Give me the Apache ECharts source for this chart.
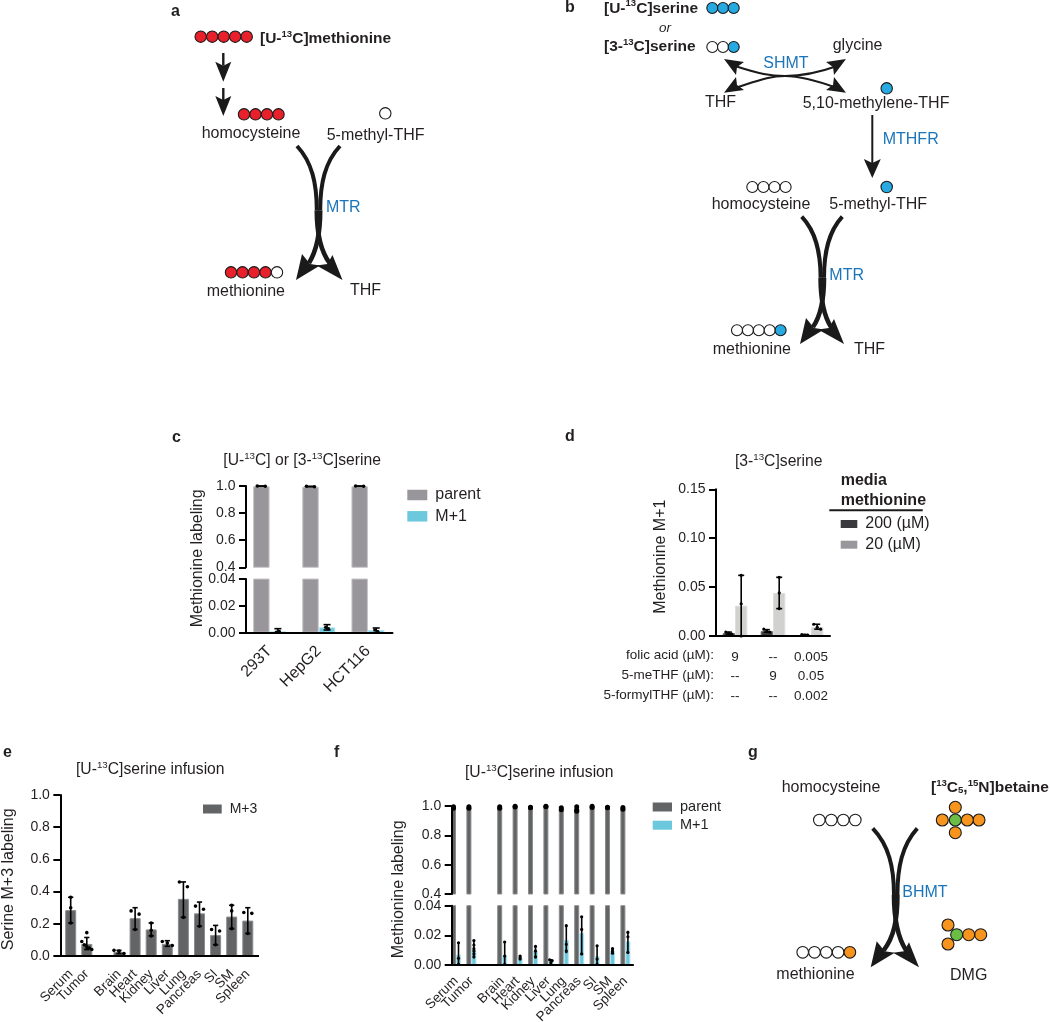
<!DOCTYPE html>
<html>
<head>
<meta charset="utf-8">
<script src="https://cdn.jsdelivr.net/npm/echarts@6/dist/echarts.min.js"></script>
<style>
  html, body { margin: 0; background: #fff; }
  #main { width: 1050px; height: 1022px; }
</style>
</head>
<body>
<div id="main"></div>
<script>
// panel c
const cCats = ['293T', 'HepG2', 'HCT116']
const cParent = [0.998, 0.995, 0.998]
const cM1 = [0.001, 0.004, 0.002]
const cParentLow = [0.998, 0.994, 0.998]
const cParentHigh = [1, 0.998, 1]
const cM1Low = [0, 0.002, 0]
const cM1High = [0.003, 0.006, 0.0035]
const cParentPts = [[1, 0.998], [0.998, 0.994], [1, 0.998]]
const cM1Pts = [[0.0005, 0.001], [0.004, 0.003], [0.002, 0.001]]

// panel d
const dFolic = ['9', '--', '0.005']
const dMeThf = ['--', '9', '0.05']
const dFormyl = ['--', '--', '0.002']
const dHigh = [0.003, 0.005, 0.001]
const dLow = [0.031, 0.044, 0.009]
const dHighLow = [0.002, 0.004, 0.0005]
const dHighHigh = [0.004, 0.0065, 0.0015]
const dLowLow = [0, 0.028, 0.007]
const dLowHigh = [0.062, 0.06, 0.012]
const dHighPts = [[0.004, 0.003, 0.002], [0.007, 0.005, 0.004], [0.0015, 0.001, 0.001]]
const dLowPts = [[0.062, 0.033, 0], [0.06, 0.044, 0.028], [0.012, 0.009, 0.007]]

// panel e, f: the empty name is the gap after Tumor
const tissues = ['Serum', 'Tumor', '', 'Brain', 'Heart', 'Kidney', 'Liver', 'Lung', 'Pancreas', 'SI', 'SM', 'Spleen']
const eM3 = [0.285, 0.075, null, 0.025, 0.235, 0.165, 0.075, 0.355, 0.265, 0.13, 0.245, 0.22]
const eLow = [0.205, 0.04, null, 0.015, 0.165, 0.125, 0.06, 0.24, 0.185, 0.07, 0.17, 0.14]
const eHigh = [0.365, 0.115, null, 0.035, 0.3, 0.205, 0.095, 0.46, 0.335, 0.19, 0.315, 0.3]
const ePts = [
  [0.365, 0.3, 0.205], [0.145, 0.09, 0.07, 0.055, 0.05, 0.04], [], [0.035, 0.03, 0.015],
  [0.28, 0.26, 0.165], [0.205, 0.16, 0.125], [0.09, 0.08, 0.065], [0.46, 0.43, 0.24],
  [0.31, 0.29, 0.185], [0.165, 0.155, 0.07], [0.315, 0.28, 0.17], [0.27, 0.265, 0.14]
]

const fParent = [0.99, 0.99, null, 0.99, 0.995, 0.99, 0.997, 0.98, 0.98, 0.995, 0.99, 0.985]
const fParentPts = [
  [0.995, 0.985], [0.995, 0.985], [], [0.995, 0.985], [0.998, 0.993], [0.992, 0.988],
  [0.999, 0.995], [0.988, 0.975], [0.995, 0.975, 0.965], [0.998, 0.99], [0.992, 0.988], [0.99, 0.978]
]
const fM1 = [0.007, 0.01, null, 0.0065, 0.005, 0.0095, 0.003, 0.017, 0.0215, 0.006, 0.0095, 0.016]
const fM1Low = [0, 0.005, null, 0, 0.004, 0.005, 0.0015, 0.0085, 0.0075, 0, 0.008, 0.0085]
const fM1High = [0.015, 0.0165, null, 0.0155, 0.006, 0.0125, 0.0035, 0.0265, 0.0325, 0.013, 0.011, 0.0225]
const fM1Pts = [
  [0.015, 0.0045, 0.0005], [0.0165, 0.0135, 0.011, 0.0095, 0.0075, 0.0055], [], [0.0155, 0.006, 0.0005],
  [0.006, 0.005, 0.004], [0.0125, 0.0095, 0.0055], [0.0035, 0.003, 0.0015], [0.0265, 0.014, 0.0095],
  [0.0325, 0.024, 0.0075], [0.013, 0.004, 0.0005], [0.011, 0.0095, 0.008], [0.022, 0.019, 0.0085]
]

const FONT = 'Liberation Sans'
const INK = '#231f20'
const BLUE = '#1b75bb'
const RED = '#e8202c'
const CYAN = '#27aae1'
const ORANGE = '#f7941d'
const GREEN = '#6abd45'
const PARENT_C = '#98969b'
const PARENT_DARK = '#636466'
const TEAL = '#6cc9dd'

// ---------- diagram helpers ----------
const graphics = []

function label(x, y, text, opt) {
  opt = opt || {}
  graphics.push({
    type: 'text', x: x, y: y, rotation: opt.rotation || 0, z: 10,
    style: {
      text: text, fill: opt.color || INK, fontFamily: FONT,
      fontSize: opt.size || 16, fontWeight: opt.weight || 'normal', fontStyle: opt.style || 'normal',
      textAlign: opt.align || 'left', textVerticalAlign: 'middle'
    }
  })
}

// text with superscripts, n = normal run, s = small raised run, l = small lowered run
function richLabel(x, y, text, opt) {
  opt = opt || {}
  const size = opt.size || 15.7
  const weight = opt.weight || 'normal'
  const base = { fontFamily: FONT, fill: INK, fontWeight: weight }
  graphics.push({
    type: 'text', x: x, y: y, z: 10,
    style: {
      text: text, fill: INK, fontFamily: FONT, fontSize: size, fontWeight: weight,
      textAlign: 'left', textVerticalAlign: 'middle',
      rich: {
        n: Object.assign({ fontSize: size, lineHeight: size + 2, verticalAlign: 'bottom' }, base),
        s: Object.assign({ fontSize: size * 0.62, lineHeight: size + 2, verticalAlign: 'top' }, base),
        l: Object.assign({ fontSize: size * 0.62, lineHeight: size + 2, verticalAlign: 'bottom' }, base)
      }
    }
  })
}

function bead(x, y, color, r) {
  graphics.push({
    type: 'circle', z: 9, shape: { cx: x, cy: y, r: r || 5.5 },
    style: { fill: color, stroke: '#1a1a1a', lineWidth: 1.1 }
  })
}

function beads(x, y, step, colors, r) {
  colors.forEach((c, i) => bead(x + i * step, y, c, r))
}

function curve(pts, width) {
  graphics.push({
    type: 'bezierCurve', z: 8,
    shape: { x1: pts[0], y1: pts[1], cpx1: pts[2], cpy1: pts[3], cpx2: pts[4], cpy2: pts[5], x2: pts[6], y2: pts[7] },
    style: { stroke: '#1a1a1a', lineWidth: width, fill: 'none', lineCap: 'butt' }
  })
}

function head(points) {
  graphics.push({ type: 'polygon', z: 8, shape: { points: points }, style: { fill: '#1a1a1a' } })
}

function straightArrow(x, y1, y2, halfW, headLen, width) {
  graphics.push({
    type: 'line', z: 8, shape: { x1: x, y1: y1, x2: x, y2: y2 - headLen + 4 },
    style: { stroke: '#1a1a1a', lineWidth: width }
  })
  head([[x, y2], [x - halfW, y2 - headLen], [x, y2 - headLen + 4], [x + halfW, y2 - headLen]])
}

// the two crossing curved arrows of a methyl transfer
function crossArrow(xL, xR, yT, yB, tipL, tipR, mid) {
  const h = yB - yT
  const w = 4
  const o = 1.7
  curve([xL, yT, xL + (mid - xL) * 0.7, yT + h * 0.12, mid - o, yT + h * 0.28, mid - o, yT + h * 0.48], w)
  curve([mid - o, yT + h * 0.48, mid - o, yT + h * 0.66, mid + o, yT + h * 0.78, tipR - 13, yB - 17], w + 0.6)
  curve([xR, yT, xR - (xR - mid) * 0.7, yT + h * 0.12, mid + o, yT + h * 0.28, mid + o, yT + h * 0.48], w)
  curve([mid + o, yT + h * 0.48, mid + o, yT + h * 0.66, mid - o, yT + h * 0.78, tipL + 13, yB - 17], w + 0.6)
  head([[tipL, yB], [tipL + 6, yB - 26], [tipL + 14, yB - 16], [tipL + 24, yB - 14.5]])
  head([[tipR, yB], [tipR - 10, yB - 25], [tipR - 15, yB - 16], [tipR - 26, yB - 14.5]])
}

// panel letters
const letters = [['a', 171, 12], ['b', 565, 8], ['c', 172, 438], ['d', 565, 437], ['e', 3, 753], ['f', 334, 753], ['g', 748, 753]]
letters.forEach(l => label(l[1], l[2], l[0], { size: 16, weight: 'bold' }))

// panel a
beads(200.7, 36.7, 11.5, [RED, RED, RED, RED, RED], 5.7)
richLabel(260, 38, '{n|[U-}{s|13}{n|C]methionine}', { weight: 'bold', size: 15.5 })
straightArrow(223.3, 53, 81.7, 8, 20, 2.4)
straightArrow(223.3, 88, 116, 8, 20, 2.4)
beads(244, 114.3, 11.5, [RED, RED, RED, RED], 5.7)
bead(385.3, 113.3, '#fff', 5.7)
label(201.7, 134, 'homocysteine')
label(326.7, 135.7, '5-methyl-THF')
crossArrow(297, 340, 146, 280, 296, 342.5, 318.5)
label(326, 207.7, 'MTR', { color: BLUE })
beads(231, 272.3, 11.5, [RED, RED, RED, RED, '#fff'], 5.7)
label(206.7, 291.7, 'methionine')
label(350, 290.7, 'THF')

// panel b
richLabel(604, 7.5, '{n|[U-}{s|13}{n|C]serine}', { weight: 'bold', size: 15.5 })
beads(712.3, 8, 10.7, [CYAN, CYAN, CYAN])
label(665, 28, 'or', { style: 'italic', size: 13.5, align: 'center' })
richLabel(604, 46.3, '{n|[3-}{s|13}{n|C]serine}', { weight: 'bold', size: 15.5 })
beads(712.3, 47, 10.7, ['#fff', '#fff', CYAN])
label(832.7, 46, 'glycine')
label(763.3, 63.3, 'SHMT', { color: BLUE })
label(705, 103, 'THF')
label(802.7, 103.3, '5,10-methylene-THF')
curve([735, 66, 760, 74, 770, 76, 785, 76], 2)
curve([785, 76, 800, 76, 815, 80, 837, 88], 2)
curve([837, 66, 815, 74, 800, 76, 785, 76], 2)
curve([785, 76, 770, 76, 760, 80, 735, 88], 2)
head([[724, 59], [744, 62], [737, 67], [736, 75]])
head([[724, 92.7], [744, 90], [737, 85], [736, 77]])
head([[846, 59], [826, 62], [833, 67], [834, 75]])
head([[846, 92.7], [826, 90], [833, 85], [834, 77]])
bead(886.7, 88.3, CYAN, 5.7)
straightArrow(872.3, 115, 178, 8.5, 19, 2)
label(882.7, 140, 'MTHFR', { color: BLUE })
bead(886.7, 187, CYAN, 5.7)
beads(752.3, 187, 11.1, ['#fff', '#fff', '#fff', '#fff'])
label(711.7, 205, 'homocysteine')
label(829.3, 205, '5-methyl-THF')
crossArrow(801.7, 842.3, 216.7, 344, 800, 844, 822.3)
label(829.3, 275.3, 'MTR', { color: BLUE })
beads(737, 330.3, 10.9, ['#fff', '#fff', '#fff', '#fff', CYAN])
label(712.7, 350, 'methionine')
label(854, 350, 'THF')

// panel g
label(781.7, 787.3, 'homocysteine')
richLabel(931, 787, '{n|[}{s|13}{n|C}{l|5}{n|,}{s|15}{n|N]betaine}', { weight: 'bold', size: 15.5 })
beads(819.3, 820, 12, ['#fff', '#fff', '#fff', '#fff'], 5.8)
bead(955.3, 807.3, ORANGE, 6)
bead(955.3, 832.7, ORANGE, 6)
bead(942.3, 820, ORANGE, 6)
bead(979, 820, ORANGE, 6)
bead(967.3, 820, ORANGE, 6)
bead(955.3, 820, GREEN, 6)
crossArrow(872.7, 917.3, 828.3, 967.3, 870.7, 919, 895.7)
label(902.3, 892.7, 'BHMT', { color: BLUE })
bead(948, 925, ORANGE, 6)
bead(948, 944, ORANGE, 6)
bead(980.7, 934.7, ORANGE, 6)
bead(968.7, 934.7, ORANGE, 6)
bead(956.7, 934.7, GREEN, 6)
beads(802.7, 952.3, 11.8, ['#fff', '#fff', '#fff', '#fff', ORANGE], 5.8)
label(776.3, 974.3, 'methionine')
label(950, 975.3, 'DMG')

// chart titles and y names
richLabel(223.3, 460, '{n|[U-}{s|13}{n|C] or [3-}{s|13}{n|C]serine}')
richLabel(735, 460.7, '{n|[3-}{s|13}{n|C]serine}')
richLabel(76, 769, '{n|[U-}{s|13}{n|C]serine infusion}')
richLabel(465, 772.3, '{n|[U-}{s|13}{n|C]serine infusion}')
label(197.3, 558.3, 'Methionine labeling', { rotation: Math.PI / 2, align: 'center' })
label(660.7, 556.7, 'Methionine M+1', { rotation: Math.PI / 2, align: 'center' })
label(8.3, 879.3, 'Serine M+3 labeling', { rotation: Math.PI / 2, align: 'center' })
label(398.3, 889.3, 'Methionine labeling', { rotation: Math.PI / 2, align: 'center' })

// d: legend header and the row names under the axis
label(840.7, 481, 'media', { weight: 'bold' })
label(840.7, 500.7, 'methionine', { weight: 'bold' })
graphics.push({ type: 'line', shape: { x1: 829.3, y1: 510.3, x2: 922.7, y2: 510.3 }, style: { stroke: '#1a1a1a', lineWidth: 2 } })
label(714, 655.7, 'folic acid (µM):', { size: 13.5, align: 'right' })
label(714, 675.5, '5-meTHF (µM):', { size: 13.5, align: 'right' })
label(714, 695, '5-formylTHF (µM):', { size: 13.5, align: 'right' })

// e: axis line runs slightly past the first and last category
graphics.push({ type: 'line', z: 5, shape: { x1: 60, y1: 956, x2: 63, y2: 956 }, style: { stroke: '#000', lineWidth: 2 } })
graphics.push({ type: 'line', z: 5, shape: { x1: 255, y1: 956, x2: 259, y2: 956 }, style: { stroke: '#000', lineWidth: 2 } })

// ---------- chart helpers ----------
const grids = []
const xAxes = []
const yAxes = []
const series = []

function addGrid(box, cats, xOpt, yOpt) {
  const idx = grids.length
  // outerBoundsMode none, otherwise the long rotated labels squeeze the grid
  grids.push(Object.assign({ containLabel: false, outerBoundsMode: 'none' }, box))
  const lab = xOpt.hidden ? { show: false } : Object.assign({
    interval: 0, rotate: 45, color: INK, fontFamily: FONT, fontSize: 14, margin: 9, hideOverlap: false
  }, xOpt.label)
  xAxes.push({
    gridIndex: idx, type: 'category', data: cats, z: 3, show: !xOpt.hidden,
    axisLine: { lineStyle: { color: '#000', width: 2 } },
    axisTick: { alignWithLabel: true, length: 6.5, lineStyle: { color: '#000', width: 2 } },
    axisLabel: lab
  })
  yAxes.push({
    gridIndex: idx, type: 'value', min: yOpt.min, max: yOpt.max, interval: yOpt.interval, offset: yOpt.offset || 0, z: 3,
    splitLine: { show: false },
    axisLine: { show: true, lineStyle: { color: '#000', width: 2 } },
    axisTick: { show: true, length: 7, lineStyle: { color: '#000', width: 2 } },
    axisLabel: {
      color: INK, fontFamily: FONT, fontSize: 14, margin: 10.5, showMinLabel: true, showMaxLabel: true,
      formatter: v => v.toFixed(yOpt.digits)
    }
  })
  return idx
}

function bar(idx, name, values, color, edge, width) {
  series.push({
    type: 'bar', name: name, xAxisIndex: idx, yAxisIndex: idx, data: values, barWidth: width, barGap: 0, z: 2,
    itemStyle: { color: color, borderColor: edge, borderWidth: 1 }
  })
}

// error bar and jittered points of one bar series, dx = shift from the category centre in px
function errDots(idx, lows, highs, pts, dx, opt) {
  const data = lows.map((l, i) => [i, l, highs[i]])
  series.push({
    type: 'custom', xAxisIndex: idx, yAxisIndex: idx, data: data, z: 4, silent: true,
    encode: { x: 0, y: [1, 2] },
    renderItem: (params, api) => {
      const i = api.value(0)
      const kids = []
      const ink = { stroke: '#000', lineWidth: 1.6 }
      if (lows[i] != null) {
        const top = api.coord([i, highs[i]])
        const bot = api.coord([i, lows[i]])
        const x = top[0] + dx
        kids.push({ type: 'line', shape: { x1: x, y1: top[1], x2: x, y2: bot[1] }, style: ink })
        kids.push({ type: 'line', shape: { x1: x - opt.cap, y1: top[1], x2: x + opt.cap, y2: top[1] }, style: ink })
        kids.push({ type: 'line', shape: { x1: x - opt.cap, y1: bot[1], x2: x + opt.cap, y2: bot[1] }, style: ink })
      }
      // points that sit close together are spread sideways, never wider than the bar
      const ys = (pts[i] || []).map(v => api.coord([i, v]))
      let start = 0
      for (let k = 1; k <= ys.length; k++) {
        if (k === ys.length || ys[k][1] - ys[k - 1][1] > opt.near) {
          const n = k - start
          const step = n > 1 ? Math.min(opt.spread, 10 / (n - 1)) : 0
          for (let m = start; m < k; m++) {
            kids.push({
              type: 'circle',
              shape: { cx: ys[m][0] + dx + (m - start - (n - 1) / 2) * step, cy: ys[m][1], r: opt.r },
              style: { fill: '#000' }
            })
          }
          start = k
        }
      }
      return { type: 'group', children: kids }
    }
  })
}

function legend(left, top, gap, w, h, size, items) {
  return {
    left: left, top: top, orient: 'vertical', itemWidth: w, itemHeight: h, itemGap: gap, selectedMode: false,
    icon: 'rect', padding: 0, itemStyle: { borderWidth: 0 },
    textStyle: { color: INK, fontFamily: FONT, fontSize: size, padding: [0, 0, 0, 3] },
    data: items.map(t => ({ name: t[0], itemStyle: { color: t[1], borderWidth: 0 } }))
  }
}

const nulls = n => new Array(n).fill(null)

// panel c, broken axis = two grids
const cTop = addGrid({ left: 245, width: 147.5, top: 486, height: 81.3 }, cCats, { hidden: true }, { min: 0.4, max: 1, interval: 0.2, digits: 1, offset: -1 })
bar(cTop, 'parent', cParent, PARENT_C, '#c6c5c8', 16.5)
bar(cTop, 'M+1', nulls(3), TEAL, '#b5e4ee', 16.5)
errDots(cTop, cParentLow, cParentHigh, cParentPts, -8.3, { cap: 3.5, near: 4, spread: 8, r: 1.8 })
const cBot = addGrid({ left: 245, width: 147.5, top: 579, height: 53.7 }, cCats, { label: { fontSize: 16, margin: 16 } }, { min: 0, max: 0.04, interval: 0.02, digits: 2, offset: -1 })
bar(cBot, 'parent', cParent, PARENT_C, '#c6c5c8', 16.5)
bar(cBot, 'M+1', cM1, TEAL, '#b5e4ee', 16.5)
errDots(cBot, cM1Low, cM1High, cM1Pts, 8.3, { cap: 3.5, near: 4, spread: 3, r: 1.6 })

// panel d, rows of the treatment table are the category labels
const dCats = dFolic.map((v, i) => [v, dMeThf[i], dFormyl[i]].join('\n'))
const d = addGrid({ left: 716, width: 114, top: 489.3, height: 146.7 }, dCats, {
  label: { rotate: 0, fontSize: 13.5, lineHeight: 19.7, margin: 11 }
}, { min: 0, max: 0.15, interval: 0.05, digits: 2 })
bar(d, '200 (µM)', dHigh, '#3a3a3c', '#6c6c6e', 12.3)
bar(d, '20 (µM)', dLow, '#d1d2d0', '#dededd', 12.3)
errDots(d, dHighLow, dHighHigh, dHighPts, -6.2, { cap: 3, near: 3, spread: 3, r: 1.6 })
errDots(d, dLowLow, dLowHigh, dLowPts, 6.2, { cap: 3, near: 3, spread: 3.5, r: 1.6 })

// panel e
const e = addGrid({ left: 62.65, width: 193.2, top: 795, height: 161 }, tissues, { label: { fontSize: 13.5, margin: 16 } }, { min: 0, max: 1, interval: 0.2, digits: 1, offset: 2.3 })
bar(e, 'M+3', eM3, PARENT_DARK, '#8b8c8d', 11)
errDots(e, eLow, eHigh, ePts, 0, { cap: 2.6, near: 5, spread: 8, r: 1.8 })

// panel f
const fTop = addGrid({ left: 448.3, width: 184.8, top: 806, height: 88 }, tissues, { hidden: true }, { min: 0.4, max: 1, interval: 0.2, digits: 1, offset: -3.4 })
bar(fTop, 'parent', fParent, PARENT_DARK, '#8b8c8d', 5)
bar(fTop, 'M+1', nulls(12), TEAL, '#b5e4ee', 5)
errDots(fTop, nulls(12), nulls(12), fParentPts, -2.5, { cap: 0, near: 1, spread: 0, r: 2.5 })
const fBot = addGrid({ left: 448.3, width: 184.8, top: 905.7, height: 59.3 }, tissues, { label: { fontSize: 13.5, margin: 14 } }, { min: 0, max: 0.04, interval: 0.02, digits: 2, offset: -3.4 })
bar(fBot, 'parent', fParent, PARENT_DARK, '#8b8c8d', 5)
bar(fBot, 'M+1', fM1, TEAL, '#b5e4ee', 5)
errDots(fBot, fM1Low, fM1High, fM1Pts, 2.5, { cap: 1, near: 1.2, spread: 2.5, r: 1.6 })

const chart = echarts.init(document.getElementById('main'), null, { renderer: 'canvas' })
chart.setOption({
  animation: false,
  backgroundColor: '#fff',
  grid: grids,
  xAxis: xAxes,
  yAxis: yAxes,
  series: series,
  legend: [
    legend(407.3, 487, 5.3, 20, 10.5, 16, [['parent', PARENT_C], ['M+1', TEAL]]),
    legend(840.7, 516, 4.7, 16.6, 8, 16, [['200 (µM)', '#3a3a3c'], ['20 (µM)', '#98979b']]),
    legend(203, 802, 4, 18.7, 9, 14, [['M+3', PARENT_DARK]]),
    legend(652.7, 799.5, 3.2, 19.3, 9, 14.5, [['parent', PARENT_DARK], ['M+1', TEAL]])
  ],
  graphic: { elements: graphics }
})
</script>
</body>
</html>
